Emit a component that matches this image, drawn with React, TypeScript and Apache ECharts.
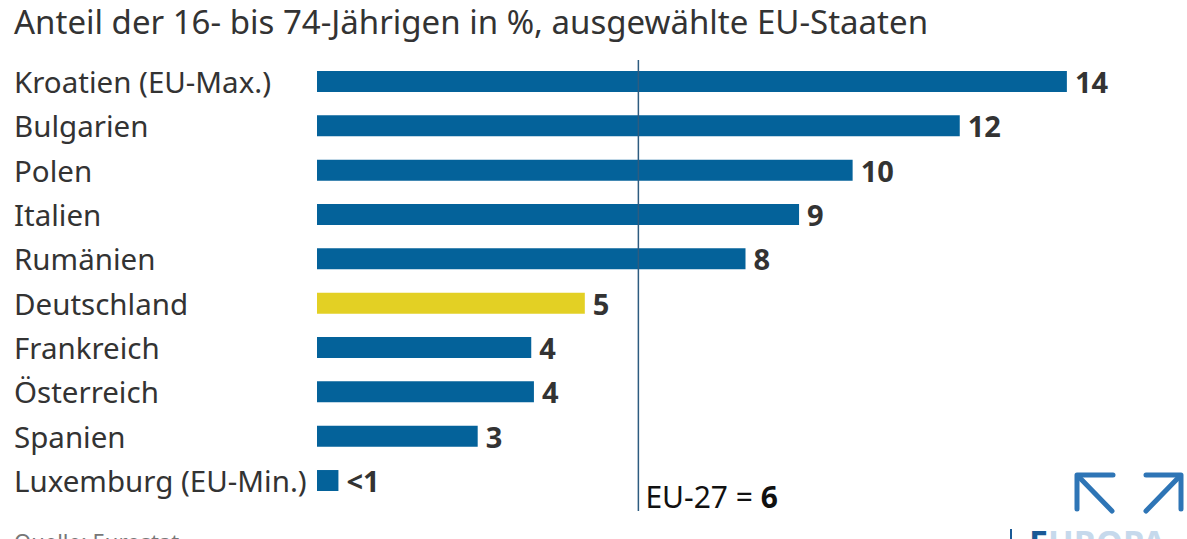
import React, { useEffect, useRef } from "react";
import * as echarts from "echarts";

const titleText = "Anteil der 16- bis 74-Jährigen in %, ausgewählte EU-Staaten";
const categories = [
  "Kroatien (EU-Max.)",
  "Bulgarien",
  "Polen",
  "Italien",
  "Rumänien",
  "Deutschland",
  "Frankreich",
  "Österreich",
  "Spanien",
  "Luxemburg (EU-Min.)",
];
const values = [14, 12, 10, 9, 8, 5, 4, 4.05, 3, 0.4];
const valueLabels = ["14", "12", "10", "9", "8", "5", "4", "4", "3", "<1"];
const highlight = "Deutschland";
const euAverage = 6;
const euLabel = "EU-27 = ";
const sourceText = "Quelle: Eurostat";
const logoText = "EUROPA";

const FONT = "'Noto Sans', sans-serif";
const BLUE = "#04629a";
const YELLOW = "#e3d024";
const TEXT = "#333333";

export default function App() {
  const ref = useRef<HTMLDivElement>(null);
  useEffect(() => {
    if (!ref.current) return;
    const chart = echarts.init(ref.current, null, { renderer: "svg" });
    const option: any = {
      animation: false,
      backgroundColor: "#ffffff",
      textStyle: { fontFamily: FONT },
      grid: { left: 317, right: 13, top: 59.3, bottom: 36.3, containLabel: false },
      xAxis: {
        type: "value",
        min: 0,
        max: 16,
        show: false,
      },
      yAxis: {
        type: "category",
        data: categories,
        inverse: true,
        axisLine: { show: false },
        axisTick: { show: false },
        splitLine: { show: false },
        axisLabel: {
          align: "left",
          margin: 303,
          color: TEXT,
          fontSize: 29.5,
          fontFamily: FONT,
        },
      },
      series: [
        {
          type: "bar",
          barWidth: 21,
          data: values.map((v, i) => ({
            value: v,
            itemStyle: { color: categories[i] === highlight ? YELLOW : BLUE },
          })),
          label: {
            show: true,
            position: "right",
            distance: 8,
            formatter: (p: any) => valueLabels[p.dataIndex],
            color: TEXT,
            fontSize: 29,
            fontWeight: "bold",
            fontFamily: FONT,
          },
        },
      ],
    };
    chart.setOption(option);
    const lx = chart.convertToPixel({ xAxisIndex: 0 }, euAverage) as number;
    const stroke = "#2e75b6";
    chart.setOption({
      graphic: [
        {
          type: "text",
          x: 14,
          y: 3,
          style: {
            text: titleText,
            fill: TEXT,
            fontSize: 33,
            fontFamily: FONT,
            lineHeight: 36,
            verticalAlign: "top",
          },
        },
        {
          type: "line",
          shape: { x1: lx, y1: 60, x2: lx, y2: 511 },
          style: { stroke: "#2d5c80", lineWidth: 1.5 },
          z: 100,
        },
        {
          type: "text",
          x: lx + 7,
          y: 496,
          style: {
            text: `{r|${euLabel}}{b|${euAverage}}`,
            verticalAlign: "middle",
            rich: {
              r: { fontSize: 30, fill: "#111", fontFamily: FONT },
              b: { fontSize: 30, fill: "#111", fontFamily: FONT, fontWeight: "bold" },
            },
          },
        },
        {
          type: "text",
          x: 14,
          y: 530,
          style: { text: sourceText, fill: "#777", font: `22px ${FONT}` },
        },
        {
          type: "polyline",
          shape: { points: [[1113, 475], [1077, 475], [1077, 509]] },
          style: { stroke, lineWidth: 5, fill: null, lineCap: "round", lineJoin: "round" },
        },
        {
          type: "line",
          shape: { x1: 1078, y1: 476, x2: 1112, y2: 511 },
          style: { stroke, lineWidth: 5, lineCap: "round" },
        },
        {
          type: "polyline",
          shape: { points: [[1146, 475], [1181, 475], [1181, 509]] },
          style: { stroke, lineWidth: 5, fill: null, lineCap: "round", lineJoin: "round" },
        },
        {
          type: "line",
          shape: { x1: 1180, y1: 476, x2: 1146, y2: 511 },
          style: { stroke, lineWidth: 5, lineCap: "round" },
        },
        {
          type: "rect",
          shape: { x: 1010, y: 529, width: 2, height: 12 },
          style: { fill: "#1a5a96" },
        },
        {
          type: "text",
          x: 1029,
          y: 525,
          style: {
            text: `{a|${logoText.slice(0, 1)}}{b|${logoText.slice(1)}}`,
            verticalAlign: "top",
            rich: {
              a: { fontSize: 34, fontWeight: "bold", fill: "#1a5a96", fontFamily: FONT },
              b: { fontSize: 34, fontWeight: "bold", fill: "#c6d9ec", fontFamily: FONT },
            },
          },
        },
      ],
    });
    return () => chart.dispose();
  }, []);
  return <div ref={ref} style={{ width: 1187, height: 539, position: "absolute", left: 0, top: 0 }} />;
}
